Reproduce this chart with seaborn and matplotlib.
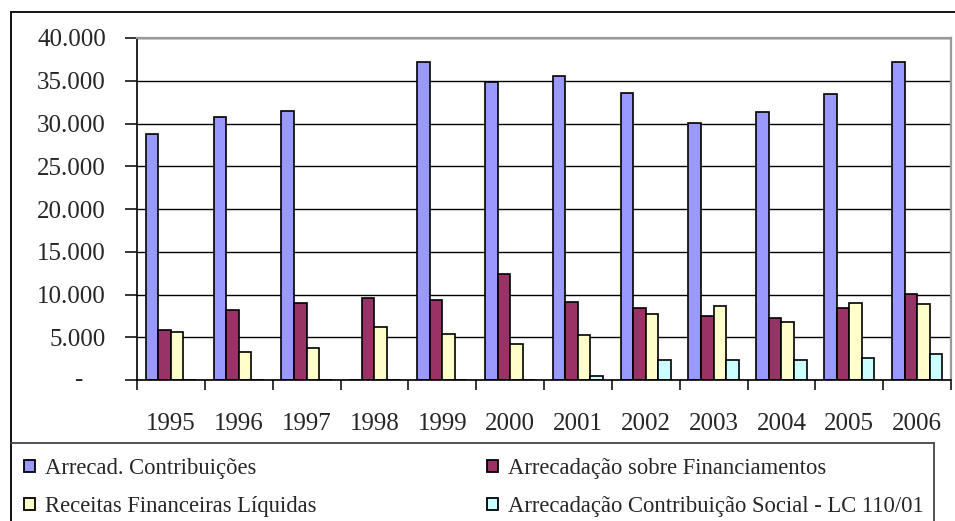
import numpy as np
import pandas as pd
import seaborn as sns
import matplotlib
matplotlib.use("Agg")
import matplotlib.pyplot as plt
from matplotlib.patches import Patch
from matplotlib.lines import Line2D
from matplotlib.ticker import FuncFormatter, FixedLocator, MultipleLocator

# ---------------- data ----------------
years = ["1995", "1996", "1997", "1998", "1999", "2000",
         "2001", "2002", "2003", "2004", "2005", "2006"]
series_names = ["Arrecad. Contribuições",
                "Arrecadação sobre Financiamentos",
                "Receitas Financeiras Líquidas",
                "Arrecadação Contribuição Social - LC 110/01"]
arrecad_contribuicoes = [28800, 30800, 31500, 0, 37150, 34850,
                         35500, 33600, 30100, 31300, 33400, 37150]
arrecad_financiamentos = [5800, 8150, 9050, 9550, 9350, 12350,
                          9080, 8420, 7490, 7210, 8420, 10020]
receitas_financeiras = [5580, 3240, 3740, 6240, 5340, 4170,
                        5300, 7720, 8620, 6740, 9040, 8850]
contrib_social_lc110 = [0, 0, 0, 0, 0, 0,
                        430, 2300, 2300, 2300, 2570, 3040]
colors = ["#9999FF", "#993366", "#FFFFCC", "#CCFFFF"]

values = [arrecad_contribuicoes, arrecad_financiamentos,
          receitas_financeiras, contrib_social_lc110]
df = pd.DataFrame({
    "Ano": np.repeat([years], 4, axis=0).ravel(),
    "Serie": np.repeat(series_names, len(years)),
    "Valor": np.concatenate(values),
})

# ---------------- figure ----------------
W, H = 955, 521
fig = plt.figure(figsize=(W / 100, H / 100), dpi=100)
sns.set_style("white")
plt.rcParams["font.family"] = ["Liberation Serif", "DejaVu Serif"]

def fx(px):
    return px / W

def fy(py):
    return 1 - py / H

ax = fig.add_axes([fx(137), fy(380), fx(951) - fx(137), fy(38) - fy(380)])
sns.barplot(data=df, x="Ano", y="Valor", hue="Serie", hue_order=series_names,
            order=years, palette=colors, width=0.74, edgecolor="black",
            linewidth=1.2, saturation=1, legend=False, ax=ax)

ax.set_ylim(0, 40000)
ax.set_xlim(-0.5, len(years) - 0.5)
ax.set_xlabel("")
ax.set_ylabel("")

# y axis
ax.yaxis.set_major_locator(MultipleLocator(5000))
ax.yaxis.set_major_formatter(FuncFormatter(
    lambda v, p: f"{int(round(v)):,}".replace(",", ".") if v > 0 else ""))
ax.tick_params(axis="y", which="major", direction="out", length=9, width=1.1,
               color="black", pad=13.5, labelsize=18, left=True)
ax.annotate("-", xy=(0, 0), xycoords=("axes fraction", "data"),
            xytext=(-39, 0), textcoords="offset points",
            ha="right", va="center", fontsize=18)
ax.grid(axis="y", color="black", linewidth=1.0)
ax.grid(axis="x", visible=False)
ax.set_axisbelow(True)

# x axis: labels at centres, ticks at boundaries
ax.xaxis.set_minor_locator(FixedLocator(np.arange(-0.5, len(years), 1.0)))
ax.tick_params(axis="x", which="major", length=0, pad=24, labelsize=18)
ax.tick_params(axis="x", which="minor", direction="out", length=7, width=1.1,
               color="black", bottom=True)

for side in ["left", "bottom"]:
    ax.spines[side].set_color("black")
    ax.spines[side].set_linewidth(1.2)
for side in ["top", "right"]:
    ax.spines[side].set_color("#999999")
    ax.spines[side].set_linewidth(1.6)
    ax.spines[side].set_visible(True)

# ---------------- outer frame & legend box ----------------
lw = 1.3
fig.add_artist(Line2D([fx(11), fx(11)], [fy(12), 0], color="black", lw=lw))
fig.add_artist(Line2D([fx(11), 1], [fy(12), fy(12)], color="black", lw=lw))
fig.add_artist(Line2D([fx(11), fx(934)], [fy(443), fy(443)], color="#444444", lw=lw))
fig.add_artist(Line2D([fx(934), fx(934)], [fy(443), 0], color="#444444", lw=lw))

handles = [Patch(facecolor=c, edgecolor="black", linewidth=1.3) for c in colors]
order = [0, 2, 1, 3]
fig.legend([handles[i] for i in order], [series_names[i] for i in order],
           ncol=2, loc="upper left", bbox_to_anchor=(fx(24), fy(458)),
           frameon=False, fontsize=16.3, handlelength=0.48, handleheight=0.48,
           handletextpad=0.43, labelspacing=0.75, columnspacing=7.56,
           borderpad=0, borderaxespad=0)

fig.savefig("out.png", dpi=100)
